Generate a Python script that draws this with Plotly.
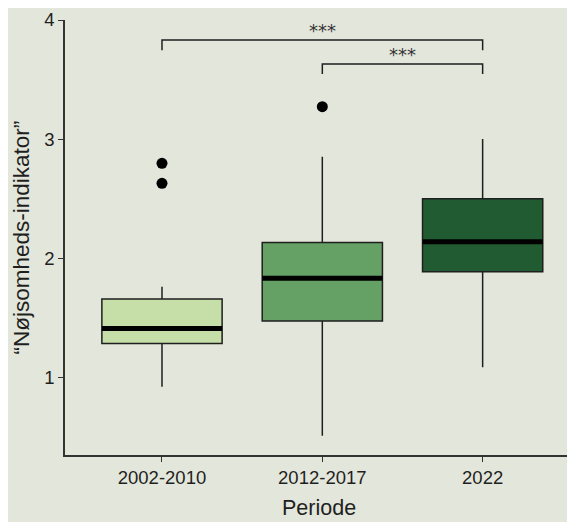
import plotly.graph_objects as go

periods = ["2002-2010", "2012-2017", "2022"]
q1 = [1.285, 1.473, 1.887]
median = [1.411, 1.831, 2.139]
q3 = [1.657, 2.133, 2.500]
lower_whisker = [0.921, 0.510, 1.084]
upper_whisker = [1.761, 2.852, 3.000]
outliers = {0: [2.797, 2.629], 1: [3.272], 2: []}
box_colors = ["#c6dea8", "#65a064", "#215b31"]

# significance brackets: (from index, to index, bracket level, label)
brackets = [(0, 2, 3.832, "***"), (1, 2, 3.631, "***")]
bracket_drop = 0.085
label_gap = 0.08

BG = "#e3e6da"
BOX_W = 0.75
FONT = "Liberation Sans"
INK = "#1f1f1f"

# page offset of the figure (browser body margin)
OFF = 8
ML, MT, MB, MR = 57, 12, 75, 0
W, H = 575, 522

fig = go.Figure()
for i, p in enumerate(periods):
    fig.add_trace(go.Box(
        x=[i], q1=[q1[i]], median=[median[i]], q3=[q3[i]],
        lowerfence=[lower_whisker[i]], upperfence=[upper_whisker[i]],
        fillcolor=box_colors[i], line=dict(color=INK, width=1.5),
        width=BOX_W, whiskerwidth=0, boxpoints=False, showlegend=False,
        hoverinfo="skip",
    ))
    fig.add_trace(go.Scatter(
        x=[i - BOX_W / 2, i + BOX_W / 2], y=[median[i], median[i]],
        mode="lines", line=dict(color="black", width=5), showlegend=False,
        hoverinfo="skip",
    ))
    if outliers[i]:
        fig.add_trace(go.Scatter(
            x=[i] * len(outliers[i]), y=outliers[i], mode="markers",
            marker=dict(color="black", size=11), showlegend=False,
        ))

for a, b, lvl, lab in brackets:
    fig.add_trace(go.Scatter(
        x=[a, a, b, b], y=[lvl - bracket_drop, lvl, lvl, lvl - bracket_drop],
        mode="lines", line=dict(color=INK, width=1.5), showlegend=False,
        hoverinfo="skip",
    ))
    fig.add_annotation(x=(a + b) / 2, y=lvl + label_gap, text=lab, showarrow=False,
                       yanchor="middle",
                       font=dict(family="DejaVu Sans", size=18, color="#333"))

plot_w = W - ML - MR
plot_h = H - MT - MB
# axis titles as annotations (page coords -> paper coords)
fig.add_annotation(text="Periode", xref="paper", yref="paper",
                   x=(318.5 - OFF - ML) / plot_w, y=-(508 - OFF - (H - MB)) / plot_h,
                   xanchor="center", yanchor="middle", showarrow=False,
                   font=dict(family=FONT, size=21.5, color=INK))
fig.add_annotation(text="\u201cNøjsomheds-indikator\u201d", xref="paper", yref="paper",
                   x=(21 - OFF - ML) / plot_w, y=0.5, textangle=-90,
                   xanchor="center", yanchor="middle", showarrow=False,
                   font=dict(family=FONT, size=22.5, color=INK))

fig.update_layout(
    width=W, height=H,
    margin=dict(l=ML, r=MR, t=MT, b=MB),
    paper_bgcolor=BG, plot_bgcolor=BG,
    font=dict(family=FONT, size=18.5, color=INK),
    xaxis=dict(
        range=[-0.605, 2.626], tickvals=list(range(len(periods))), ticktext=periods,
        showgrid=False, zeroline=False, showline=True, linecolor="#333", linewidth=1.5,
        ticks="outside", ticklen=5, tickcolor="#333",
    ),
    yaxis=dict(
        range=[0.348, 4], tickvals=[1, 2, 3, 4],
        showgrid=False, zeroline=False, showline=True, linecolor="#333", linewidth=1.5,
        ticks="outside", ticklen=5, tickcolor="#333",
    ),
)

fig.write_html("out.html")
